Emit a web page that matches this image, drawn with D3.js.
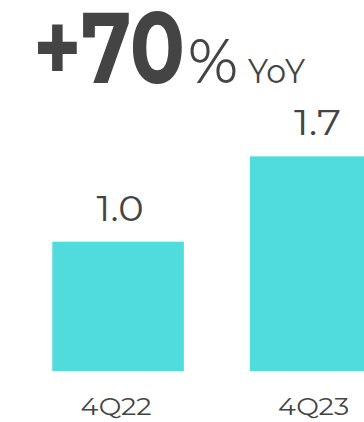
<!DOCTYPE html>
<html><head><meta charset="utf-8">
<script src="https://cdn.jsdelivr.net/npm/d3@7"></script>
<style>html,body{margin:0;padding:0;background:#fff;overflow:hidden}</style>
</head><body>
<script>
const categories = ["4Q22", "4Q23"];
const values = [1.0, 1.66];
const valueLabels = ["1.0", "1.7"];
const headline = "+70";
const headlineUnit = "%";
const headlineSuffix = "YoY";

const W = 364, H = 422;
const font = "Montserrat, 'DejaVu Sans', sans-serif";
const textColor = "#444444";
const barColor = "#50DBDC";

const svg = d3.select("body").append("svg").attr("width", W).attr("height", H);

const baseline = 371;
const x = d3.scaleBand().domain(categories).range([52.3, 381.4]).paddingInner(0.334).paddingOuter(0);
const y = d3.scaleLinear().domain([0, 1]).range([baseline, 241.7]);

svg.selectAll("rect.bar").data(categories).join("rect")
  .attr("class", "bar")
  .attr("x", d => x(d))
  .attr("width", x.bandwidth())
  .attr("y", (d, i) => y(values[i]))
  .attr("height", (d, i) => baseline - y(values[i]))
  .attr("fill", barColor);

svg.selectAll("text.val").data(categories).join("text")
  .attr("class", "val")
  .attr("x", d => x(d) + x.bandwidth() / 2 + 2)
  .attr("y", (d, i) => y(values[i]) - 21)
  .attr("text-anchor", "middle")
  .attr("font-family", font).attr("font-size", 36).attr("fill", textColor)
  .attr("textLength", 47).attr("lengthAdjust", "spacingAndGlyphs")
  .text((d, i) => valueLabels[i]);

svg.selectAll("text.cat").data(categories).join("text")
  .attr("class", "cat")
  .attr("x", d => x(d) + x.bandwidth() / 2 - 2)
  .attr("y", 415)
  .attr("text-anchor", "middle")
  .attr("font-family", font).attr("font-size", 24).attr("fill", textColor)
  .attr("textLength", 71).attr("lengthAdjust", "spacingAndGlyphs")
  .text(d => d);

svg.append("text").attr("x", 33).attr("y", 83)
  .attr("font-family", font).attr("font-size", 100).attr("font-weight", 700).attr("fill", textColor)
  .attr("textLength", 152).attr("lengthAdjust", "spacingAndGlyphs")
  .text(headline);
svg.append("text").attr("x", 188).attr("y", 83)
  .attr("font-family", font).attr("font-size", 62).attr("fill", textColor)
  .attr("textLength", 50).attr("lengthAdjust", "spacingAndGlyphs")
  .text(headlineUnit);
svg.append("text").attr("x", 248).attr("y", 82.5)
  .attr("font-family", font).attr("font-size", 33).attr("fill", textColor)
  .attr("textLength", 57).attr("lengthAdjust", "spacingAndGlyphs")
  .text(headlineSuffix);
</script>
</body></html>
